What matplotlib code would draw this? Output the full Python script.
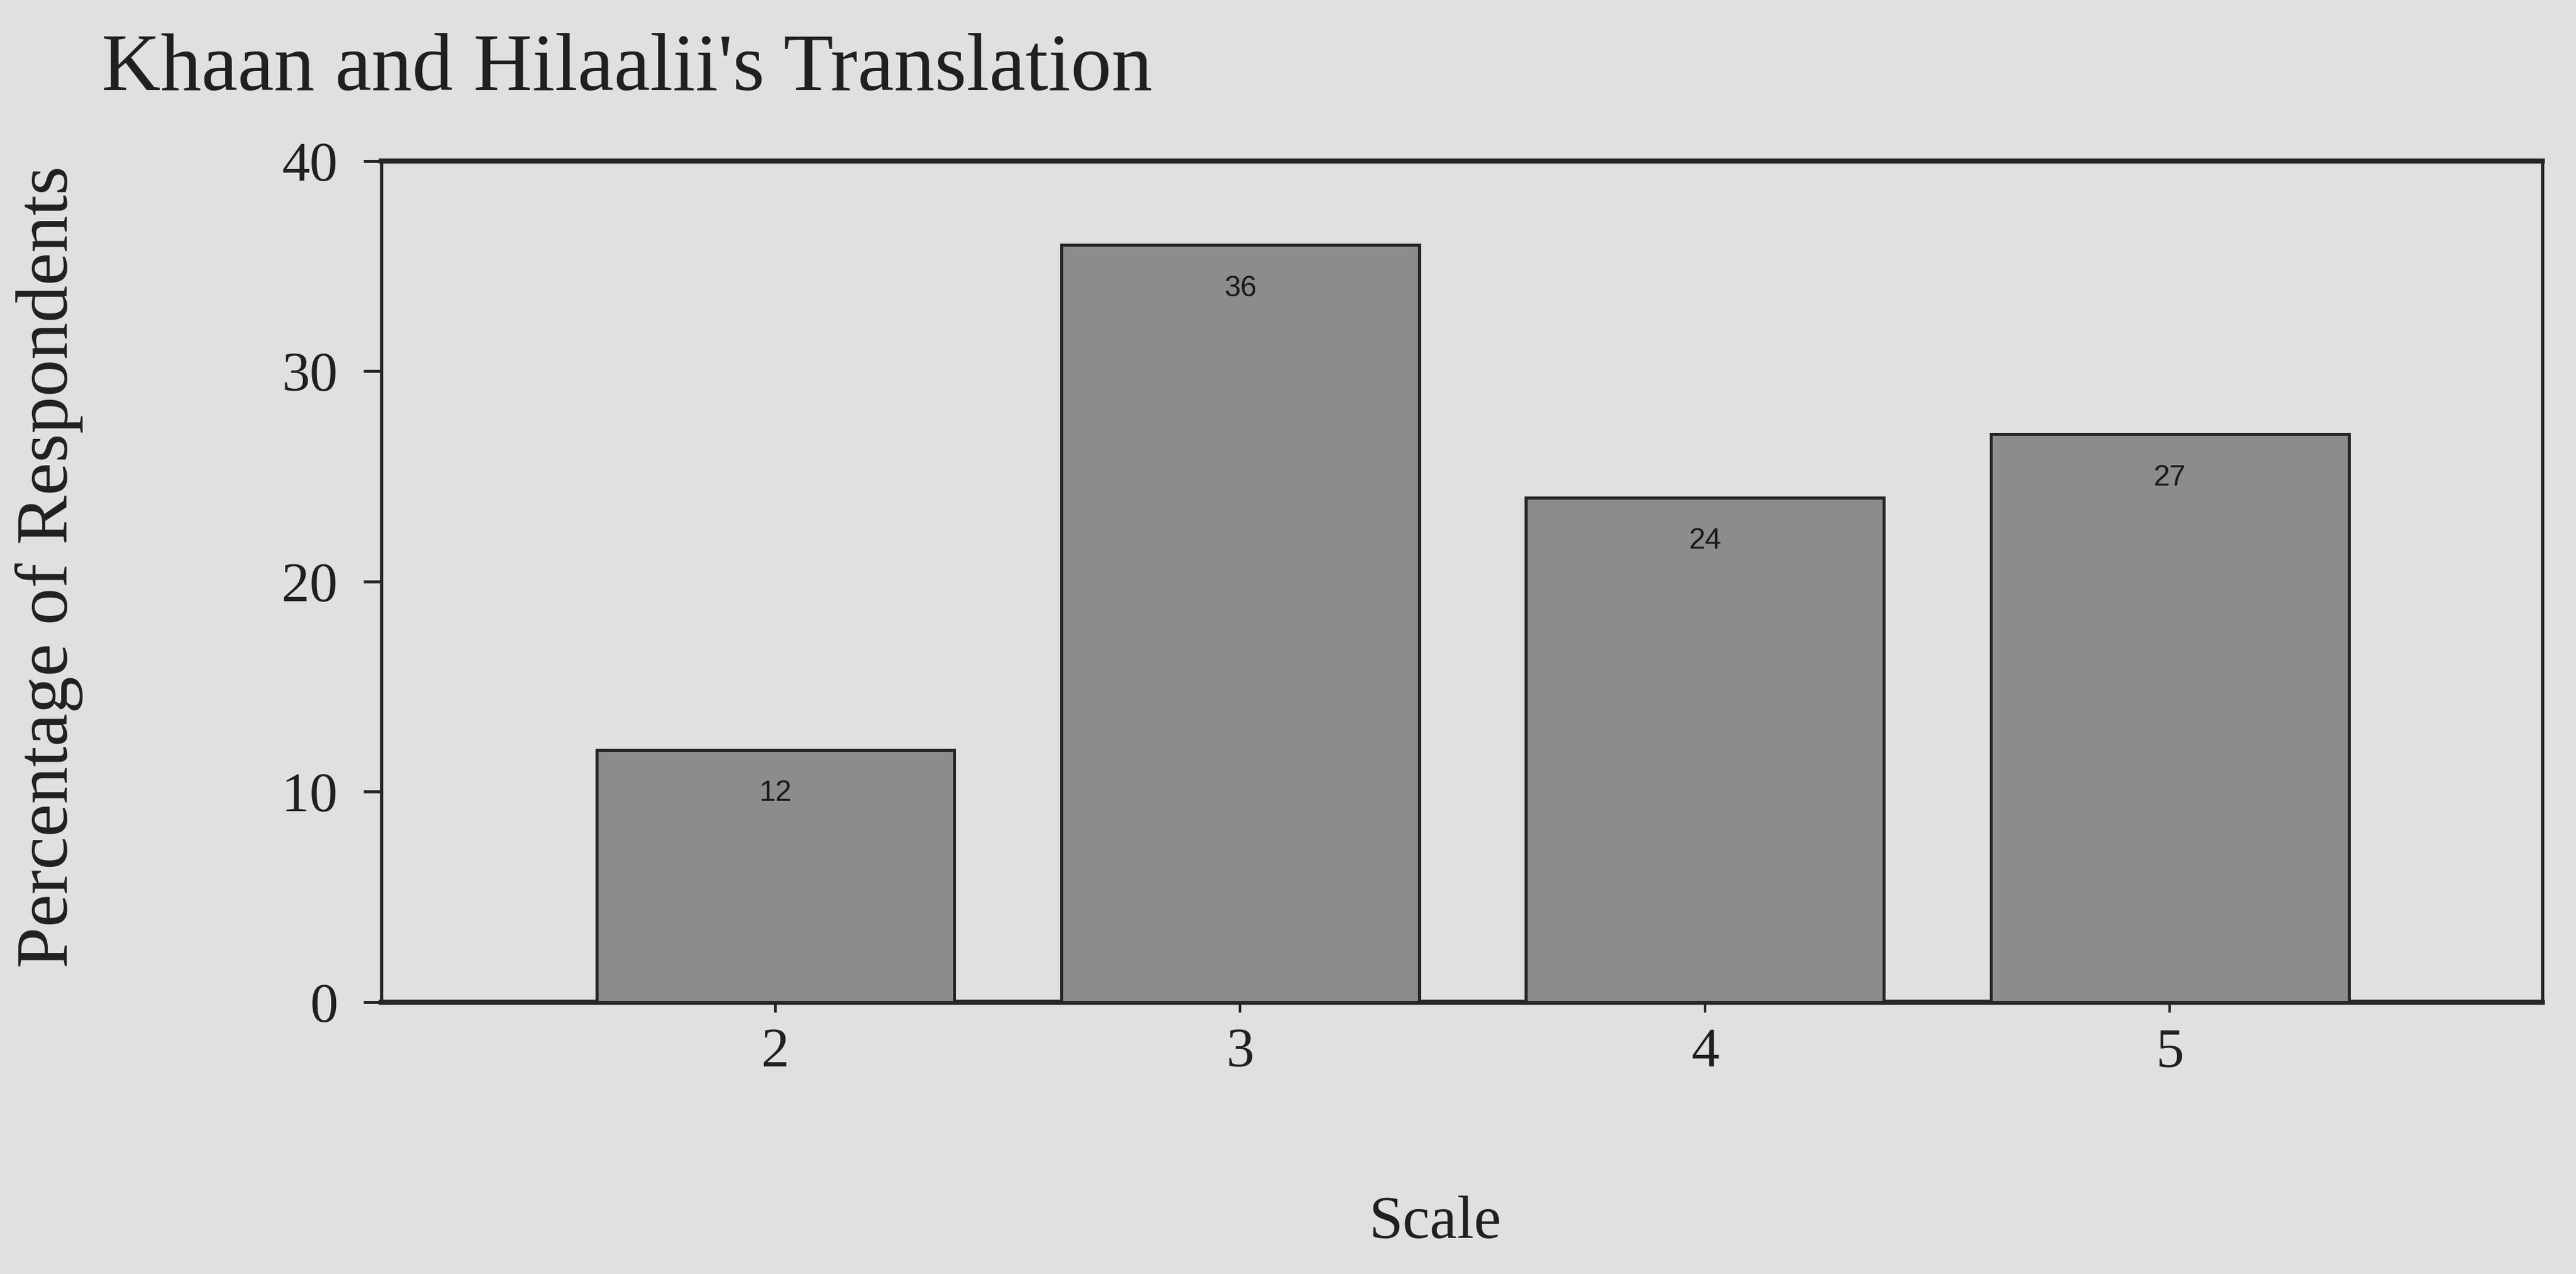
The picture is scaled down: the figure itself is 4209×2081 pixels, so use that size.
import matplotlib
matplotlib.use("Agg")
import matplotlib.pyplot as plt

# survey scale points and share of respondents (%)
scale_points = ["2", "3", "4", "5"]
percentages = [12, 36, 24, 27]
y_ticks = [0, 10, 20, 30, 40]

PAPER = "#e0e0e0"
BAR_GREY = "#8c8c8c"
INK = "#262626"

plt.rcParams["font.family"] = ["Liberation Serif", "DejaVu Serif"]

fig = plt.figure(figsize=(14.03, 6.937), dpi=300, facecolor=PAPER)
ax = fig.add_axes([0.148, 0.2134, 0.839, 0.6602], facecolor=PAPER)

positions = list(range(len(scale_points)))
bars = ax.bar(positions, percentages, width=0.77, color=BAR_GREY,
              edgecolor=INK, linewidth=1.2, zorder=3)

# value labels sit just under the top of each bar
for bar, value in zip(bars, percentages):
    ax.annotate(f"{value}", (bar.get_x() + bar.get_width() / 2, value),
                xytext=(0, -17), textcoords="offset points",
                ha="center", va="center", fontsize=11.5,
                family=["Liberation Sans", "DejaVu Sans"], color="#1a1a1a",
                zorder=4)

ax.set_xlim(-0.848, 3.802)
ax.set_ylim(0, 40)
ax.set_xticks(positions)
ax.set_xticklabels(scale_points)
ax.set_yticks(y_ticks)

ax.tick_params(axis="x", direction="out", length=4, width=1.0,
               color=INK, labelsize=22, pad=6, labelcolor="#202020")
ax.tick_params(axis="y", direction="out", length=7, width=1.2,
               color=INK, labelsize=22, pad=10, labelcolor="#202020")

for side in ("top", "bottom"):
    ax.spines[side].set_linewidth(2.0)
    ax.spines[side].set_color(INK)
for side in ("left", "right"):
    ax.spines[side].set_linewidth(1.3)
    ax.spines[side].set_color(INK)

fig.text(0.019, 0.555, "Percentage of Respondents", rotation=90,
         ha="center", va="center", fontsize=29, color="#202020")
fig.text(0.557, 0.04, "Scale", ha="center", va="center", fontsize=24,
         color="#202020")
fig.text(0.0395, 0.945, "Khaan and Hilaalii's Translation", ha="left",
         va="center", fontsize=32, color="#202020")

fig.savefig("out.png", dpi=300, facecolor=PAPER)
